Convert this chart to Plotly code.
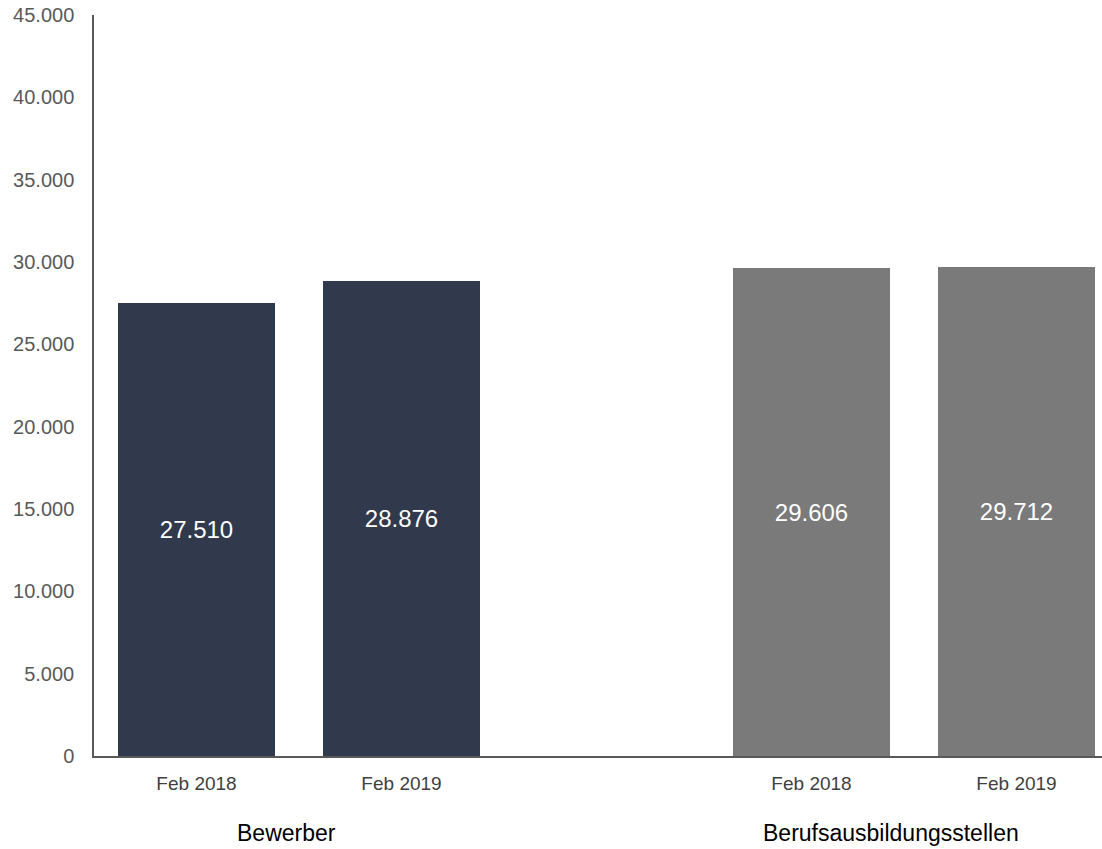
import plotly.graph_objects as go

# data
groups = ["Bewerber", "Berufsausbildungsstellen"]
periods = ["Feb 2018", "Feb 2019"]
bewerber = [27510, 28876]
stellen = [29606, 29712]
y_ticks = [0, 5000, 10000, 15000, 20000, 25000, 30000, 35000, 40000, 45000]

colors = ["#31394d", "#7a7a7a"]


def fmt(v):
    return f"{v:,}".replace(",", ".")


fig = go.Figure()

tickvals, ticktext = [], []
for g, (name, values) in enumerate(zip(groups, [bewerber, stellen])):
    # each group takes two slots, with an empty slot between groups
    xs = [g * 3 + i for i in range(len(periods))]
    tickvals += xs
    ticktext += periods
    fig.add_trace(go.Bar(
        x=xs,
        y=values,
        name=name,
        width=0.77,
        marker=dict(color=colors[g], line=dict(width=0)),
        text=[fmt(v) for v in values],
        textposition="inside",
        insidetextanchor="middle",
        textfont=dict(color="white", size=24, family="Liberation Sans, Arial, sans-serif"),
        showlegend=False,
        hoverinfo="skip",
    ))

# group labels below the period labels
for label, xpos in zip(groups, [0.44, 3.39]):
    fig.add_annotation(
        x=xpos, y=0, xref="x", yref="paper",
        yshift=-92, showarrow=False, text=label,
        font=dict(size=23, color="#000000", family="Liberation Sans, Arial, sans-serif"),
    )

fig.update_layout(
    width=1102,
    height=849,
    margin=dict(l=94, r=0, t=15, b=93),
    plot_bgcolor="white",
    paper_bgcolor="white",
    font=dict(family="Liberation Sans, Arial, sans-serif", color="#595959"),
    bargap=0,
)

fig.update_xaxes(
    range=[-0.5, 4.417],
    tickvals=tickvals,
    ticktext=ticktext,
    tickfont=dict(size=19, color="#404040"),
    showgrid=False,
    zeroline=False,
    showline=True,
    linecolor="#595959",
    linewidth=1.5,
    ticks="",
    ticklabelstandoff=9,
    automargin=False,
)

fig.update_yaxes(
    range=[0, 45000],
    tickvals=y_ticks,
    ticktext=[fmt(v) for v in y_ticks],
    tickfont=dict(size=20, color="#595959"),
    showgrid=False,
    zeroline=False,
    showline=True,
    linecolor="#595959",
    linewidth=1.5,
    ticks="",
    ticklabelstandoff=14,
    ticklabeloverflow="allow",
    automargin=False,
)

# drop the browser's default body margin so the figure fills the window
fig.write_html(
    "out.html",
    config={"displayModeBar": False},
    post_script="document.body.style.margin = '0';",
)
